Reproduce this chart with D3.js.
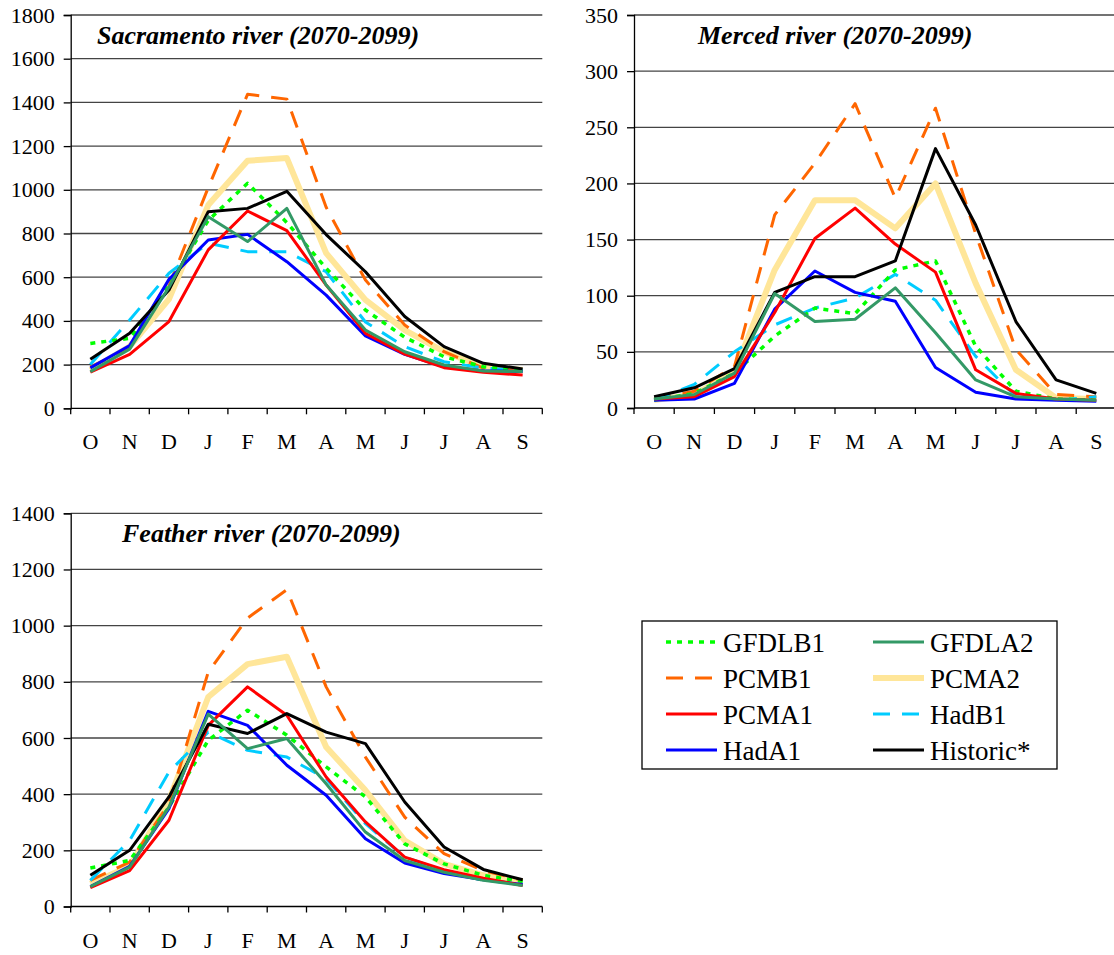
<!DOCTYPE html>
<html>
<head>
<meta charset="utf-8">
<script src="https://cdn.jsdelivr.net/npm/d3@7"></script>
<style>
  body { margin: 0; background: #fff; }
  svg text { font-family: "Liberation Serif", "Times New Roman", serif; }
</style>
</head>
<body>
<div id="chart"></div>
<script>
// Month labels (water year, Oct - Sep)
var months = ["O", "N", "D", "J", "F", "M", "A", "M", "J", "J", "A", "S"];

var seriesNames = ["GFDLB1", "GFDLA2", "PCMB1", "PCMA2", "PCMA1", "HadB1", "HadA1", "Historic*"];

// Sacramento river (2070-2099)
var sacGFDLB1 = [297, 320, 560, 860, 1030, 850, 641, 450, 325, 236, 190, 175];
var sacGFDLA2 = [168, 271, 554, 877, 763, 915, 564, 358, 259, 198, 171, 168];
var sacPCMB1 = [190, 275, 560, 1010, 1437, 1415, 920, 587, 381, 259, 184, 175];
var sacPCMA2 = [175, 283, 500, 930, 1133, 1145, 710, 496, 358, 259, 190, 175];
var sacPCMA1 = [165, 247, 397, 725, 903, 813, 564, 343, 248, 186, 165, 152];
var sacHadB1 = [200, 404, 618, 756, 717, 717, 625, 395, 282, 213, 184, 175];
var sacHadA1 = [185, 287, 590, 770, 796, 671, 518, 331, 247, 190, 172, 168];
var sacHistoric = [225, 343, 541, 900, 915, 993, 795, 625, 420, 282, 206, 180];

// Merced river (2070-2099)
var merGFDLB1 = [7, 13, 31, 64, 89, 84, 123, 131, 55, 15, 8, 7];
var merGFDLA2 = [8, 12, 31, 102, 77, 79, 107, 67, 25, 10, 8, 7];
var merPCMB1 = [8, 15, 37, 172, 218, 271, 187, 267, 155, 52, 12, 10];
var merPCMA2 = [7, 12, 32, 123, 185, 185, 160, 200, 111, 34, 9, 8];
var merPCMA1 = [8, 10, 28, 85, 151, 178, 146, 121, 34, 13, 8, 7];
var merHadB1 = [7, 21, 50, 74, 89, 98, 119, 96, 46, 10, 7, 10];
var merHadA1 = [7, 8, 22, 88, 122, 103, 95, 36, 14, 8, 7, 6];
var merHistoric = [10, 18, 35, 103, 117, 117, 131, 231, 163, 77, 25, 13];

// Feather river (2070-2099)
var feaGFDLB1 = [137, 164, 354, 592, 699, 610, 497, 390, 223, 152, 111, 89];
var feaGFDLA2 = [71, 140, 354, 685, 562, 598, 437, 265, 164, 122, 93, 75];
var feaPCMB1 = [93, 158, 366, 835, 1027, 1128, 782, 532, 318, 188, 128, 93];
var feaPCMA2 = [81, 143, 378, 746, 863, 889, 568, 414, 235, 152, 111, 90];
var feaPCMA1 = [67, 128, 307, 645, 782, 681, 461, 301, 176, 131, 101, 75];
var feaHadB1 = [93, 235, 479, 621, 556, 532, 455, 295, 176, 128, 93, 81];
var feaHadA1 = [71, 143, 348, 695, 645, 503, 396, 241, 155, 117, 95, 78];
var feaHistoric = [111, 200, 390, 649, 616, 687, 621, 580, 372, 212, 132, 95];

// y tick values per panel
var sacTicks = [0, 200, 400, 600, 800, 1000, 1200, 1400, 1600, 1800];
var merTicks = [0, 50, 100, 150, 200, 250, 300, 350];
var feaTicks = [0, 200, 400, 600, 800, 1000, 1200, 1400];

// line styles
var styles = {
  "GFDLB1": { color: "#00ff00", width: 3.5, dash: "5,6" },
  "GFDLA2": { color: "#339966", width: 3, dash: null },
  "PCMB1": { color: "#ff6600", width: 3, dash: "17,12" },
  "PCMA2": { color: "#ffe699", width: 6, dash: null },
  "PCMA1": { color: "#ff0000", width: 3, dash: null },
  "HadB1": { color: "#00ccff", width: 3, dash: "17,12" },
  "HadA1": { color: "#0000ff", width: 3, dash: null },
  "Historic*": { color: "#000000", width: 3, dash: null }
};

// drawing order (bottom to top)
var drawOrder = ["PCMA2", "PCMB1", "HadB1", "GFDLB1", "HadA1", "PCMA1", "Historic*", "GFDLA2"];

var serif = "'Liberation Serif', 'Times New Roman', serif";

var svg = d3
  .select("#chart")
  .append("svg")
  .attr("width", 1114)
  .attr("height", 955);

function drawPanel(p) {
  var x = d3
    .scaleBand()
    .domain(d3.range(months.length))
    .range([p.left, p.right])
    .padding(0);

  var y = d3
    .scaleLinear()
    .domain([0, d3.max(p.ticks)])
    .range([p.bottom, p.top]);

  var g = svg.append("g");

  // gridlines
  g.selectAll(".grid")
    .data(p.ticks.filter(function (t) { return t > 0; }))
    .enter()
    .append("line")
    .attr("x1", p.left)
    .attr("x2", p.right)
    .attr("y1", function (d) { return y(d); })
    .attr("y2", function (d) { return y(d); })
    .attr("stroke", "#444")
    .attr("stroke-width", 1.3);

  // y axis
  var yAxis = d3.axisLeft(y)
    .tickValues(p.ticks)
    .tickFormat(d3.format("d"))
    .tickSize(7)
    .tickPadding(9);
  var ya = g.append("g")
    .attr("transform", "translate(" + p.left + ",0)")
    .call(yAxis)
    .attr("font-family", null);
  ya.select(".domain").attr("stroke", "#000").attr("stroke-width", 1.3);
  ya.selectAll(".tick line").attr("stroke", "#000").attr("stroke-width", 1.3);
  ya.selectAll("text")
    .style("font-family", serif)
    .style("font-size", "22px")
    .attr("fill", "#000");

  // x axis: ticks at category boundaries
  var bounds = d3.range(months.length + 1).map(function (i) {
    return i < months.length ? x(i) : x(months.length - 1) + x.bandwidth();
  });
  g.append("line")
    .attr("x1", p.left)
    .attr("x2", p.right)
    .attr("y1", p.bottom)
    .attr("y2", p.bottom)
    .attr("stroke", "#000")
    .attr("stroke-width", 1.3);
  g.selectAll(".xtick")
    .data(bounds)
    .enter()
    .append("line")
    .attr("x1", function (d) { return d; })
    .attr("x2", function (d) { return d; })
    .attr("y1", p.bottom)
    .attr("y2", p.bottom + 6)
    .attr("stroke", "#000")
    .attr("stroke-width", 1.3);
  g.selectAll(".xlabel")
    .data(months)
    .enter()
    .append("text")
    .attr("x", function (d, i) { return x(i) + x.bandwidth() / 2; })
    .attr("y", p.bottom + 41)
    .attr("text-anchor", "middle")
    .style("font-family", serif)
    .style("font-size", "22px")
    .text(function (d) { return d; });

  // lines
  var line = d3
    .line()
    .x(function (d, i) { return x(i) + x.bandwidth() / 2; })
    .y(function (d) { return y(d); });

  drawOrder.forEach(function (name) {
    var s = styles[name];
    g.append("path")
      .datum(p.series[name])
      .attr("d", line)
      .attr("fill", "none")
      .attr("stroke", s.color)
      .attr("stroke-width", s.width)
      .attr("stroke-linejoin", "round")
      .attr("stroke-dasharray", s.dash);
  });

  // title
  g.append("text")
    .attr("x", p.titleX)
    .attr("y", p.titleY)
    .style("font-family", serif)
    .style("font-size", "26px")
    .style("font-weight", "bold")
    .style("font-style", "italic")
    .text(p.title);
}

drawPanel({
  title: "Sacramento river (2070-2099)",
  titleX: 97, titleY: 44,
  left: 70.7, right: 542.3, top: 15, bottom: 408.3,
  ticks: sacTicks,
  series: {
    "GFDLB1": sacGFDLB1, "GFDLA2": sacGFDLA2, "PCMB1": sacPCMB1, "PCMA2": sacPCMA2,
    "PCMA1": sacPCMA1, "HadB1": sacHadB1, "HadA1": sacHadA1, "Historic*": sacHistoric
  }
});

drawPanel({
  title: "Merced river (2070-2099)",
  titleX: 698, titleY: 44,
  left: 634, right: 1116.4, top: 15, bottom: 408,
  ticks: merTicks,
  series: {
    "GFDLB1": merGFDLB1, "GFDLA2": merGFDLA2, "PCMB1": merPCMB1, "PCMA2": merPCMA2,
    "PCMA1": merPCMA1, "HadB1": merHadB1, "HadA1": merHadA1, "Historic*": merHistoric
  }
});

drawPanel({
  title: "Feather river (2070-2099)",
  titleX: 122, titleY: 542,
  left: 70.7, right: 542.3, top: 513.3, bottom: 906.5,
  ticks: feaTicks,
  series: {
    "GFDLB1": feaGFDLB1, "GFDLA2": feaGFDLA2, "PCMB1": feaPCMB1, "PCMA2": feaPCMA2,
    "PCMA1": feaPCMA1, "HadB1": feaHadB1, "HadA1": feaHadA1, "Historic*": feaHistoric
  }
});

// Legend box
var legend = svg.append("g").attr("transform", "translate(642,621)");
legend.append("rect")
  .attr("width", 415)
  .attr("height", 148)
  .attr("fill", "#fff")
  .attr("stroke", "#000")
  .attr("stroke-width", 1.3);

var items = legend
  .selectAll(".legend")
  .data(seriesNames)
  .enter()
  .append("g")
  .attr("transform", function (d, i) {
    var col = i % 2, row = Math.floor(i / 2);
    return "translate(" + (col === 0 ? 24 : 231) + "," + (21 + row * 36) + ")";
  });

items.append("line")
  .attr("x1", 0)
  .attr("x2", 51)
  .attr("stroke", function (d) { return styles[d].color; })
  .attr("stroke-width", function (d) { return styles[d].width; })
  .attr("stroke-dasharray", function (d) { return styles[d].dash; });

items.append("text")
  .attr("x", 57)
  .attr("y", 10)
  .style("font-family", serif)
  .style("font-size", "27px")
  .text(function (d) { return d; });
</script>
</body>
</html>
